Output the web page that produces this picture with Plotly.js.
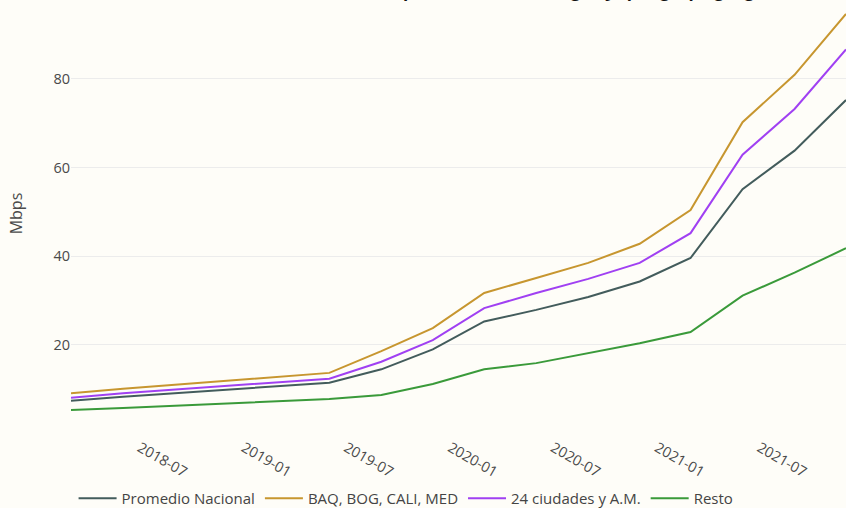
<!DOCTYPE html>
<html>
<head>
<meta charset="utf-8">
<script src="https://cdn.plot.ly/plotly-3.0.1.min.js"></script>
<style>
html,body{margin:0;padding:0;background:#fefdf8;}
#chart{width:846px;height:508px;}
</style>
</head>
<body>
<div id="chart"></div>
<script>
const fechas = ["2018-03-01","2018-06-01","2019-06-01","2019-09-01","2019-12-01","2020-03-01","2020-06-01","2020-09-01","2020-12-01","2021-03-01","2021-06-01","2021-09-01","2021-12-01"];
const promedioNacional = [7.4, 8.3, 11.5, 14.5, 19.0, 25.3, 27.9, 30.8, 34.3, 39.6, 55.1, 63.8, 75.2];
const baqBogCaliMed   = [9.1, 10.1, 13.7, 18.6, 23.8, 31.7, 35.1, 38.5, 42.8, 50.4, 70.2, 80.9, 94.6];
const ciudades24      = [8.1, 9.1, 12.4, 16.2, 21.1, 28.3, 31.7, 34.9, 38.5, 45.2, 62.9, 73.2, 86.6];
const resto           = [5.35, 5.8, 7.8, 8.7, 11.2, 14.5, 15.9, 18.2, 20.4, 22.9, 31.1, 36.3, 41.8];
const nombres = ["Promedio Nacional", "BAQ, BOG, CALI, MED", "24 ciudades y A.M.", "Resto"];
const colores = ["#435c5c", "#c7962f", "#a040f2", "#3a9a3a"];
const titulo = "Velocidad promedio de descarga fija por grupo geográfico";

const series = [promedioNacional, baqBogCaliMed, ciudades24, resto];
const traces = series.map((ys, i) => ({
  x: fechas, y: ys, type: "scatter", mode: "lines", name: nombres[i],
  line: {color: colores[i], width: 2}
}));

const layout = {
  width: 846, height: 508,
  paper_bgcolor: "#fefdf8", plot_bgcolor: "#fefdf8",
  font: {family: "Open Sans, sans-serif", color: "#4a4a4a", size: 14},
  margin: {l: 71, r: 0, t: 0, b: 81},
  showlegend: true,
  legend: {orientation: "h", xref: "container", x: 0.48, xanchor: "center",
           yref: "container", y: 0.051, yanchor: "top", itemwidth: 38,
           font: {size: 15, color: "#444"}, bgcolor: "rgba(0,0,0,0)"},
  xaxis: {type: "date", range: ["2018-03-01", "2021-12-01"], tickformat: "%Y-%m",
          dtick: "M6", tick0: "2018-01-01", tickangle: 30, showgrid: false,
          ticks: "outside", ticklen: 6, tickcolor: "rgba(0,0,0,0)",
          zeroline: false, showline: false, tickfont: {size: 14.5}},
  yaxis: {range: [1.5, 97.76], dtick: 20, tick0: 0, gridcolor: "#ececec",
          zeroline: false, showline: false, tickfont: {size: 14.5},
          title: {text: "Mbps", font: {size: 16}, standoff: 26}},
  annotations: [{text: "<b>" + titulo + "</b>", xref: "paper", yref: "paper",
                 x: 0.63, y: 0.9915, xanchor: "center", yanchor: "bottom",
                 showarrow: false, font: {size: 17, color: "#111"}}]
};

Plotly.newPlot("chart", traces, layout, {displayModeBar: false, staticPlot: true});
</script>
</body>
</html>
